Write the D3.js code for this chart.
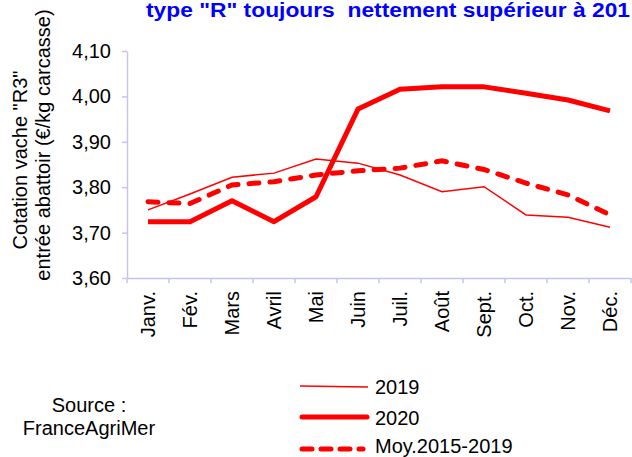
<!DOCTYPE html>
<html><head><meta charset="utf-8">
<script src="https://cdn.jsdelivr.net/npm/d3@7"></script>
<style>body{margin:0;background:#fff}svg{display:block;font-family:"Liberation Sans",Arial,sans-serif}</style>
</head><body>
<script>
const months = ["Janv.","Fév.","Mars","Avril","Mai","Juin","Juil.","Août","Sept.","Oct.","Nov.","Déc."];
const v2019 = [3.750,3.785,3.822,3.831,3.862,3.853,3.827,3.790,3.801,3.739,3.734,3.712];
const v2020 = [3.724,3.724,3.770,3.724,3.779,3.972,4.016,4.021,4.021,4.007,3.992,3.968];
const vMoy  = [3.768,3.764,3.805,3.812,3.827,3.836,3.842,3.858,3.839,3.809,3.783,3.739];
const yTicks = [3.6,3.7,3.8,3.9,4.0,4.1];
const seriesNames = ["2019","2020","Moy.2015-2019"];
const titleText = "type \"R\" toujours  nettement supérieur à 201";
const yTitle1 = "Cotation vache \"R3\"";
const yTitle2 = "entrée abattoir (€/kg carcasse)";
const sourceLines = ["Source :","FranceAgriMer"];

const W=632,H=457;
const svg=d3.select("body").append("svg").attr("width",W).attr("height",H);
const x=d3.scaleBand().domain(months).range([127,631]).padding(0);
const y=d3.scaleLinear().domain([3.6,4.1]).range([278,51]);
const axisCol="#c4c4f2";
const fmt=v=>d3.format(".2f")(v).replace(".",",");

// title
svg.append("text").attr("x",146).attr("y",17).attr("fill","#0000ff")
  .attr("font-weight","bold").attr("font-size",20)
  .attr("textLength",484).attr("lengthAdjust","spacingAndGlyphs")
  .style("white-space","pre").attr("xml:space","preserve").text(titleText);

// y axis
const ya=svg.append("g").attr("transform","translate(127,0)")
  .call(d3.axisLeft(y).tickValues(yTicks).tickFormat(fmt).tickSize(5).tickSizeOuter(0));
ya.select(".domain").attr("stroke",axisCol).attr("stroke-width",1.5);
ya.selectAll(".tick line").attr("stroke",axisCol).attr("stroke-width",1.5);
ya.selectAll(".tick text").attr("font-size",20).attr("fill","#000").attr("x",-16)
  .attr("font-family","Liberation Sans, Arial, sans-serif");

// x axis
const xa=svg.append("g").attr("transform","translate(0,278)")
  .call(d3.axisBottom(x).tickSize(0).tickSizeOuter(0));
xa.select(".domain").attr("stroke",axisCol).attr("stroke-width",1.5);
xa.selectAll(".tick text").attr("font-size",20).attr("fill","#000")
  .attr("font-family","Liberation Sans, Arial, sans-serif")
  .attr("transform","rotate(-90)").attr("text-anchor","end")
  .attr("x",-13).attr("y",0).attr("dy","0.35em");
const bounds=months.map(m=>x(m)).concat([x.range()[1]]);
xa.selectAll(".bt").data(bounds).enter().append("line").attr("class","bt")
  .attr("x1",d=>d).attr("x2",d=>d).attr("y1",0).attr("y2",5)
  .attr("stroke",axisCol).attr("stroke-width",1.5);

// y title
svg.append("text").attr("transform","translate(27,160) rotate(-90)")
  .attr("text-anchor","middle").attr("font-size",20).attr("fill","#000").text(yTitle1);
svg.append("text").attr("transform","translate(50,145) rotate(-90)")
  .attr("text-anchor","middle").attr("font-size",20).attr("fill","#000").text(yTitle2);

// lines
const line=d3.line().x((d,i)=>x(months[i])+x.bandwidth()/2).y(d=>y(d));
svg.append("path").datum(v2019).attr("d",line).attr("fill","none")
  .attr("stroke","#ff0000").attr("stroke-width",1.5);
svg.append("path").datum(vMoy).attr("d",line).attr("fill","none")
  .attr("stroke","#ff0000").attr("stroke-width",5).attr("stroke-dasharray","10,11")
  .attr("stroke-linecap","round");
svg.append("path").datum(v2020).attr("d",line).attr("fill","none")
  .attr("stroke","#ff0000").attr("stroke-width",5).attr("stroke-linejoin","round");

// legend
const lg=svg.append("g");
const ly=[386,417,449];
const lty=[394,425,453];
lg.append("line").attr("x1",300).attr("x2",368).attr("y1",ly[0]).attr("y2",ly[0]+1)
  .attr("stroke","#ff0000").attr("stroke-width",1.5);
lg.append("line").attr("x1",302).attr("x2",367).attr("y1",ly[1]).attr("y2",ly[1])
  .attr("stroke","#ff0000").attr("stroke-width",5).attr("stroke-linecap","round");
lg.append("line").attr("x1",302).attr("x2",363).attr("y1",ly[2]).attr("y2",ly[2])
  .attr("stroke","#ff0000").attr("stroke-width",5).attr("stroke-linecap","round")
  .attr("stroke-dasharray","10,9");
seriesNames.forEach((n,i)=>{
  lg.append("text").attr("x",375).attr("y",lty[i]).attr("font-size",20).attr("fill","#000").text(n);
});

// source
sourceLines.forEach((s,i)=>{
  svg.append("text").attr("x",89).attr("y",412+i*23).attr("text-anchor","middle")
    .attr("font-size",20).attr("fill","#000").text(s);
});
</script>
</body></html>
